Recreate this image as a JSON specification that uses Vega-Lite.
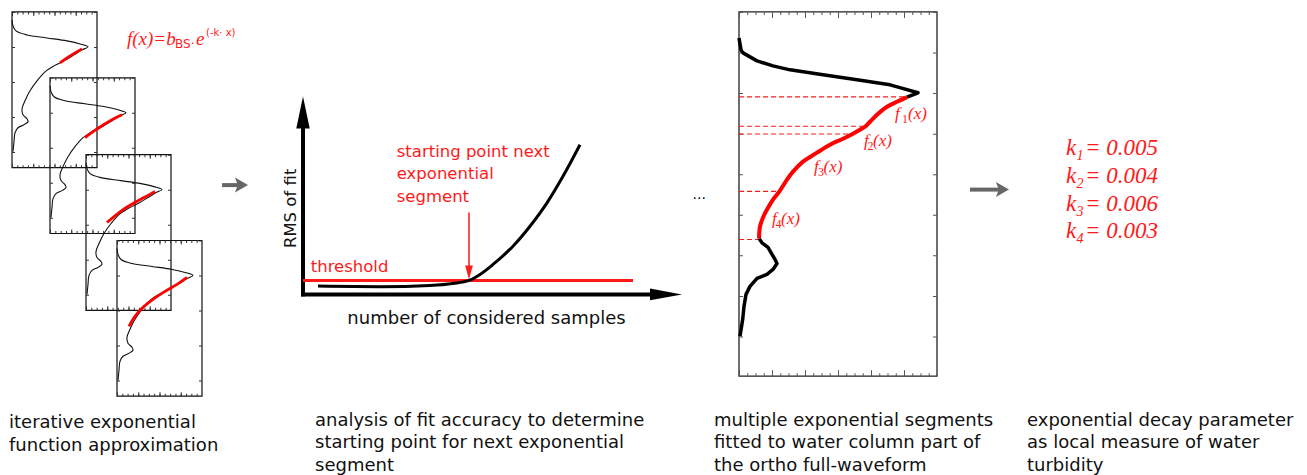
{
  "$schema": "https://vega.github.io/schema/vega-lite/v6.json",
  "width": 1307,
  "height": 475,
  "autosize": {"type": "fit", "contains": "padding"},
  "padding": 0,
  "background": "white",
  "config": {"view": {"stroke": null}},
  "datasets": {
    "pboxes": [
      {"b": "A", "x": 12, "y": 12, "x2": 97, "y2": 168},
      {"b": "B", "x": 50, "y": 78, "x2": 135, "y2": 234},
      {"b": "C", "x": 86, "y": 155, "x2": 171, "y2": 311},
      {"b": "D", "x": 117, "y": 241, "x2": 202, "y2": 397}
    ],
    "box3": [{"x": 739, "y": 12, "x2": 937, "y2": 377}],
    "wave1": [
      {"b":"A","i":0,"x":12,"y":20},{"b":"A","i":1,"x":13,"y":26},{"b":"A","i":2,"x":16,"y":31},{"b":"A","i":3,"x":27,"y":35},{"b":"A","i":4,"x":47,"y":38},{"b":"A","i":5,"x":67,"y":41},{"b":"A","i":6,"x":80,"y":44},{"b":"A","i":7,"x":88,"y":47},{"b":"A","i":8,"x":82,"y":50},{"b":"A","i":9,"x":74,"y":55},{"b":"A","i":10,"x":64,"y":61},{"b":"A","i":11,"x":54,"y":66},{"b":"A","i":12,"x":45,"y":72},{"b":"A","i":13,"x":37,"y":81},{"b":"A","i":14,"x":30,"y":91},{"b":"A","i":15,"x":25,"y":101},{"b":"A","i":16,"x":22,"y":109},{"b":"A","i":17,"x":23,"y":115},{"b":"A","i":18,"x":27,"y":119},{"b":"A","i":19,"x":28,"y":122},{"b":"A","i":20,"x":24,"y":125},{"b":"A","i":21,"x":18,"y":128},{"b":"A","i":22,"x":15,"y":133},{"b":"A","i":23,"x":14,"y":142},{"b":"A","i":24,"x":13,"y":152},
      {"b":"B","i":0,"x":50,"y":86},{"b":"B","i":1,"x":51,"y":92},{"b":"B","i":2,"x":54,"y":97},{"b":"B","i":3,"x":65,"y":101},{"b":"B","i":4,"x":85,"y":104},{"b":"B","i":5,"x":105,"y":107},{"b":"B","i":6,"x":118,"y":110},{"b":"B","i":7,"x":126,"y":113},{"b":"B","i":8,"x":120,"y":116},{"b":"B","i":9,"x":112,"y":121},{"b":"B","i":10,"x":102,"y":127},{"b":"B","i":11,"x":92,"y":132},{"b":"B","i":12,"x":83,"y":138},{"b":"B","i":13,"x":75,"y":147},{"b":"B","i":14,"x":68,"y":157},{"b":"B","i":15,"x":63,"y":167},{"b":"B","i":16,"x":60,"y":175},{"b":"B","i":17,"x":61,"y":181},{"b":"B","i":18,"x":65,"y":185},{"b":"B","i":19,"x":66,"y":188},{"b":"B","i":20,"x":62,"y":191},{"b":"B","i":21,"x":56,"y":194},{"b":"B","i":22,"x":53,"y":199},{"b":"B","i":23,"x":52,"y":208},{"b":"B","i":24,"x":51,"y":218},
      {"b":"C","i":0,"x":86,"y":163},{"b":"C","i":1,"x":87,"y":169},{"b":"C","i":2,"x":90,"y":174},{"b":"C","i":3,"x":101,"y":178},{"b":"C","i":4,"x":121,"y":181},{"b":"C","i":5,"x":141,"y":184},{"b":"C","i":6,"x":154,"y":187},{"b":"C","i":7,"x":162,"y":190},{"b":"C","i":8,"x":156,"y":193},{"b":"C","i":9,"x":148,"y":198},{"b":"C","i":10,"x":138,"y":204},{"b":"C","i":11,"x":128,"y":209},{"b":"C","i":12,"x":119,"y":215},{"b":"C","i":13,"x":111,"y":224},{"b":"C","i":14,"x":104,"y":234},{"b":"C","i":15,"x":99,"y":244},{"b":"C","i":16,"x":96,"y":252},{"b":"C","i":17,"x":97,"y":258},{"b":"C","i":18,"x":101,"y":262},{"b":"C","i":19,"x":102,"y":265},{"b":"C","i":20,"x":98,"y":268},{"b":"C","i":21,"x":92,"y":271},{"b":"C","i":22,"x":89,"y":276},{"b":"C","i":23,"x":88,"y":285},{"b":"C","i":24,"x":87,"y":295},
      {"b":"D","i":0,"x":117,"y":249},{"b":"D","i":1,"x":118,"y":255},{"b":"D","i":2,"x":121,"y":260},{"b":"D","i":3,"x":132,"y":264},{"b":"D","i":4,"x":152,"y":267},{"b":"D","i":5,"x":172,"y":270},{"b":"D","i":6,"x":185,"y":273},{"b":"D","i":7,"x":193,"y":276},{"b":"D","i":8,"x":187,"y":279},{"b":"D","i":9,"x":179,"y":284},{"b":"D","i":10,"x":169,"y":290},{"b":"D","i":11,"x":159,"y":295},{"b":"D","i":12,"x":150,"y":301},{"b":"D","i":13,"x":142,"y":310},{"b":"D","i":14,"x":135,"y":320},{"b":"D","i":15,"x":130,"y":330},{"b":"D","i":16,"x":127,"y":338},{"b":"D","i":17,"x":128,"y":344},{"b":"D","i":18,"x":132,"y":348},{"b":"D","i":19,"x":133,"y":351},{"b":"D","i":20,"x":129,"y":354},{"b":"D","i":21,"x":123,"y":357},{"b":"D","i":22,"x":120,"y":362},{"b":"D","i":23,"x":119,"y":371},{"b":"D","i":24,"x":118,"y":381}
    ],
    "red1": [
      {"b":"A","i":0,"x":82,"y":49},{"b":"A","i":1,"x":75,"y":53},{"b":"A","i":2,"x":67,"y":58},{"b":"A","i":3,"x":60,"y":63},
      {"b":"B","i":0,"x":122,"y":115},{"b":"B","i":1,"x":112,"y":120},{"b":"B","i":2,"x":102,"y":126},{"b":"B","i":3,"x":93,"y":132},{"b":"B","i":4,"x":85,"y":138},
      {"b":"C","i":0,"x":155,"y":192},{"b":"C","i":1,"x":144,"y":198},{"b":"C","i":2,"x":133,"y":204},{"b":"C","i":3,"x":123,"y":210},{"b":"C","i":4,"x":114,"y":217},{"b":"C","i":5,"x":107,"y":223},
      {"b":"D","i":0,"x":187,"y":278},{"b":"D","i":1,"x":177,"y":285},{"b":"D","i":2,"x":165,"y":292},{"b":"D","i":3,"x":153,"y":300},{"b":"D","i":4,"x":143,"y":308},{"b":"D","i":5,"x":135,"y":317},{"b":"D","i":6,"x":129,"y":327}
    ],
    "wave3": [
      {"b":"top","i":0,"x":739,"y":38},{"b":"top","i":1,"x":741,"y":50},{"b":"top","i":2,"x":743,"y":53},{"b":"top","i":3,"x":757,"y":61},{"b":"top","i":4,"x":773,"y":66},{"b":"top","i":5,"x":790,"y":70},{"b":"top","i":6,"x":823,"y":75},{"b":"top","i":7,"x":857,"y":80},{"b":"top","i":8,"x":890,"y":85},{"b":"top","i":9,"x":899,"y":87.5},{"b":"top","i":10,"x":918,"y":93},{"b":"top","i":11,"x":907,"y":97.3},
      {"b":"tail","i":0,"x":759,"y":239},{"b":"tail","i":1,"x":762,"y":243.3},{"b":"tail","i":2,"x":768,"y":248},{"b":"tail","i":3,"x":775,"y":260},{"b":"tail","i":4,"x":777,"y":264},{"b":"tail","i":5,"x":773,"y":270},{"b":"tail","i":6,"x":767,"y":275},{"b":"tail","i":7,"x":757,"y":279},{"b":"tail","i":8,"x":750,"y":287},{"b":"tail","i":9,"x":746,"y":295},{"b":"tail","i":10,"x":744,"y":307},{"b":"tail","i":11,"x":742.7,"y":320},{"b":"tail","i":12,"x":740,"y":337}
    ],
    "red3": [
      {"i":0,"x":907,"y":97.3},{"i":1,"x":897,"y":102},{"i":2,"x":887,"y":107},{"i":3,"x":877,"y":115},{"i":4,"x":870,"y":122},{"i":5,"x":865,"y":127},{"i":6,"x":860,"y":130},{"i":7,"x":853,"y":134},{"i":8,"x":843,"y":139},{"i":9,"x":830,"y":145},{"i":10,"x":817,"y":153},{"i":11,"x":803,"y":162},{"i":12,"x":793,"y":172},{"i":13,"x":787,"y":180},{"i":14,"x":780,"y":191},{"i":15,"x":773,"y":200},{"i":16,"x":767,"y":210},{"i":17,"x":763,"y":218},{"i":18,"x":760,"y":227},{"i":19,"x":759,"y":239}
    ],
    "captions": [
      {"x": 9, "y": 429.3, "t": "iterative exponential"},
      {"x": 9, "y": 451.7, "t": "function approximation"},
      {"x": 315, "y": 426.7, "t": "analysis of fit accuracy to determine"},
      {"x": 315, "y": 449, "t": "starting point for next exponential"},
      {"x": 315, "y": 471.5, "t": "segment"},
      {"x": 714, "y": 426.7, "t": "multiple exponential segments"},
      {"x": 714, "y": 449, "t": "fitted to water column part of"},
      {"x": 714, "y": 471.5, "t": "the ortho full-waveform"},
      {"x": 1027, "y": 426.7, "t": "exponential decay parameter"},
      {"x": 1027, "y": 449, "t": "as local measure of water"},
      {"x": 1027, "y": 471.5, "t": "turbidity"}
    ]
  },
  "encoding": {
    "x": {"field": "x", "type": "quantitative", "scale": {"domain": [0, 1307], "nice": false, "zero": false}, "axis": null},
    "y": {"field": "y", "type": "quantitative", "scale": {"domain": [0, 475], "reverse": true, "nice": false, "zero": false}, "axis": null}
  },
  "layer": [
    {"data": {"name": "pboxes"}, "mark": {"type": "rect", "fill": "white", "fillOpacity": 0, "stroke": "#111", "strokeWidth": 1.2}, "encoding": {"x2": {"field": "x2"}, "y2": {"field": "y2"}}},
    {"data": {"name": "pboxes"}, "mark": {"type": "rule", "color": "#333", "strokeWidth": 2.5, "strokeDash": [1, 4.31], "yOffset": 1.25}, "encoding": {"x2": {"field": "x2"}}},
    {"data": {"name": "pboxes"}, "mark": {"type": "rule", "color": "#333", "strokeWidth": 4, "strokeDash": [1, 20.25], "yOffset": 2}, "encoding": {"x2": {"field": "x2"}}},
    {"data": {"name": "pboxes"}, "mark": {"type": "rule", "color": "#333", "strokeWidth": 2.5, "strokeDash": [1, 4.31], "yOffset": -1.25}, "encoding": {"y": {"field": "y2", "type": "quantitative", "scale": {"domain": [0, 475], "reverse": true, "nice": false, "zero": false}, "axis": null}, "x2": {"field": "x2"}}},
    {"data": {"name": "pboxes"}, "mark": {"type": "rule", "color": "#333", "strokeWidth": 4, "strokeDash": [1, 20.25], "yOffset": -2}, "encoding": {"y": {"field": "y2", "type": "quantitative", "scale": {"domain": [0, 475], "reverse": true, "nice": false, "zero": false}, "axis": null}, "x2": {"field": "x2"}}},
    {"data": {"name": "pboxes"}, "mark": {"type": "rule", "color": "#333", "strokeWidth": 3, "strokeDash": [1, 34], "xOffset": 1.5}, "encoding": {"y2": {"field": "y2"}}},
    {"data": {"name": "pboxes"}, "mark": {"type": "rule", "color": "#333", "strokeWidth": 3, "strokeDash": [1, 34], "xOffset": -1.5}, "encoding": {"x": {"field": "x2", "type": "quantitative", "scale": {"domain": [0, 1307], "nice": false, "zero": false}, "axis": null}, "y2": {"field": "y2"}}},
    {"data": {"name": "wave1"}, "mark": {"type": "line", "color": "#111", "strokeWidth": 1.1, "interpolate": "catmull-rom"}, "encoding": {"detail": {"field": "b"}, "order": {"field": "i", "type": "quantitative"}}},
    {"data": {"name": "red1"}, "mark": {"type": "line", "color": "#ff0000", "strokeWidth": 2.8, "interpolate": "catmull-rom"}, "encoding": {"detail": {"field": "b"}, "order": {"field": "i", "type": "quantitative"}}},

    {"data": {"values": [{"x": 222, "x2": 239, "y": 185.5}, {"x": 970, "x2": 1001, "y": 190}]}, "mark": {"type": "rule", "color": "#666", "strokeWidth": 4}, "encoding": {"x2": {"field": "x2"}}},
    {"data": {"values": [{"x": 240.5, "y": 185.5}, {"x": 1001.5, "y": 190}]}, "mark": {"type": "point", "shape": "M1,0L-0.75,-1L-0.35,0L-0.75,1Z", "size": 225, "filled": true, "color": "#666", "opacity": 1, "strokeWidth": 0}, "encoding": {}},

    {"data": {"values": [{"x": 303, "y": 297, "y2": 118}]}, "mark": {"type": "rule", "color": "#000", "strokeWidth": 4}, "encoding": {"y2": {"field": "y2"}}},
    {"data": {"values": [{"x": 301, "x2": 655, "y": 295}]}, "mark": {"type": "rule", "color": "#000", "strokeWidth": 4}, "encoding": {"x2": {"field": "x2"}}},
    {"data": {"values": [{"x": 303, "y": 112.7}]}, "mark": {"type": "point", "shape": "M0,-1L0.42,1L-0.42,1Z", "size": 1024, "filled": true, "color": "#000", "opacity": 1, "strokeWidth": 0}, "encoding": {}},
    {"data": {"values": [{"x": 666, "y": 295}]}, "mark": {"type": "point", "shape": "M1,0L-1,-0.37L-1,0.37Z", "size": 1024, "filled": true, "color": "#000", "opacity": 1, "strokeWidth": 0}, "encoding": {}},
    {"data": {"values": [{"x": 303, "x2": 633, "y": 281}]}, "mark": {"type": "rule", "color": "#ff1a1a", "strokeWidth": 3}, "encoding": {"x2": {"field": "x2"}}},
    {"data": {"values": [
      {"i":0,"x":318,"y":286.7},{"i":1,"x":380,"y":287.3},{"i":2,"x":430,"y":286},{"i":3,"x":453,"y":284},{"i":4,"x":469,"y":281},{"i":5,"x":480,"y":275},{"i":6,"x":493,"y":265},{"i":7,"x":513,"y":246.7},{"i":8,"x":530,"y":226.7},{"i":9,"x":547,"y":203.3},{"i":10,"x":563,"y":176.7},{"i":11,"x":580,"y":145}
    ]}, "mark": {"type": "line", "color": "#000", "strokeWidth": 3, "interpolate": "monotone"}, "encoding": {"order": {"field": "i", "type": "quantitative"}}},
    {"data": {"values": [{"x": 469, "y": 213, "y2": 267}]}, "mark": {"type": "rule", "color": "#ff1a1a", "strokeWidth": 1.5}, "encoding": {"y2": {"field": "y2"}}},
    {"data": {"values": [{"x": 469, "y": 273}]}, "mark": {"type": "point", "shape": "M0,1L-0.55,-1L0.55,-1Z", "size": 196, "filled": true, "color": "#ff1a1a", "opacity": 1, "strokeWidth": 0}, "encoding": {}},

    {"data": {"name": "box3"}, "mark": {"type": "rect", "fill": "white", "fillOpacity": 0, "stroke": "#222", "strokeWidth": 1.3}, "encoding": {"x2": {"field": "x2"}, "y2": {"field": "y2"}}},
    {"data": {"name": "box3"}, "mark": {"type": "rule", "color": "#555", "strokeWidth": 3, "strokeDash": [1, 7.25], "yOffset": 1.5}, "encoding": {"x2": {"field": "x2"}}},
    {"data": {"name": "box3"}, "mark": {"type": "rule", "color": "#555", "strokeWidth": 6, "strokeDash": [1, 32], "yOffset": 3}, "encoding": {"x2": {"field": "x2"}}},
    {"data": {"name": "box3"}, "mark": {"type": "rule", "color": "#555", "strokeWidth": 3, "strokeDash": [1, 7.25], "yOffset": -1.5}, "encoding": {"y": {"field": "y2", "type": "quantitative", "scale": {"domain": [0, 475], "reverse": true, "nice": false, "zero": false}, "axis": null}, "x2": {"field": "x2"}}},
    {"data": {"name": "box3"}, "mark": {"type": "rule", "color": "#555", "strokeWidth": 6, "strokeDash": [1, 32], "yOffset": -3}, "encoding": {"y": {"field": "y2", "type": "quantitative", "scale": {"domain": [0, 475], "reverse": true, "nice": false, "zero": false}, "axis": null}, "x2": {"field": "x2"}}},
    {"data": {"name": "box3"}, "mark": {"type": "rule", "color": "#555", "strokeWidth": 4, "strokeDash": [1, 39.56], "xOffset": 2}, "encoding": {"y2": {"field": "y2"}}},
    {"data": {"name": "box3"}, "mark": {"type": "rule", "color": "#555", "strokeWidth": 4, "strokeDash": [1, 39.56], "xOffset": -2}, "encoding": {"x": {"field": "x2", "type": "quantitative", "scale": {"domain": [0, 1307], "nice": false, "zero": false}, "axis": null}, "y2": {"field": "y2"}}},
    {"data": {"values": [
      {"x": 739, "x2": 907, "y": 97}, {"x": 739, "x2": 865, "y": 126.5}, {"x": 739, "x2": 853, "y": 134.3}, {"x": 739, "x2": 780, "y": 191.7}, {"x": 739, "x2": 759, "y": 240}
    ]}, "mark": {"type": "rule", "color": "#ff1a1a", "strokeWidth": 1.2, "strokeDash": [5, 3]}, "encoding": {"x2": {"field": "x2"}}},
    {"data": {"name": "wave3"}, "mark": {"type": "line", "color": "#000", "strokeWidth": 3.5, "strokeJoin": "round", "interpolate": "linear"}, "encoding": {"detail": {"field": "b"}, "order": {"field": "i", "type": "quantitative"}}},
    {"data": {"name": "red3"}, "mark": {"type": "line", "color": "#ff0000", "strokeWidth": 4, "strokeJoin": "round", "interpolate": "catmull-rom"}, "encoding": {"order": {"field": "i", "type": "quantitative"}}},

    {"data": {"name": "captions"}, "mark": {"type": "text", "font": "DejaVu Sans", "fontSize": 18, "color": "#111", "align": "left", "baseline": "alphabetic"}, "encoding": {"text": {"field": "t"}}},
    {"data": {"values": [
      {"x": 396.7, "y": 157, "t": "starting point next"},
      {"x": 396.7, "y": 179.5, "t": "exponential"},
      {"x": 396.7, "y": 202, "t": "segment"},
      {"x": 310.7, "y": 272.7, "t": "threshold"}
    ]}, "mark": {"type": "text", "font": "DejaVu Sans", "fontSize": 16.5, "color": "#ff1a1a", "align": "left", "baseline": "alphabetic"}, "encoding": {"text": {"field": "t"}}},
    {"data": {"values": [{"x": 486.5, "y": 325, "t": "number of considered samples"}]}, "mark": {"type": "text", "font": "DejaVu Sans", "fontSize": 18, "color": "#111", "align": "center", "baseline": "alphabetic"}, "encoding": {"text": {"field": "t"}}},
    {"data": {"values": [{"x": 295.5, "y": 208.8, "t": "RMS of fit"}]}, "mark": {"type": "text", "font": "DejaVu Sans", "fontSize": 16.5, "color": "#111", "align": "center", "baseline": "alphabetic", "angle": 270}, "encoding": {"text": {"field": "t"}}},
    {"data": {"values": [{"x": 692.5, "y": 199, "t": "..."}]}, "mark": {"type": "text", "font": "DejaVu Sans", "fontSize": 14, "color": "#000", "align": "left", "baseline": "alphabetic"}, "encoding": {"text": {"field": "t"}}},

    {"data": {"values": [
      {"x": 895, "y": 119, "t": "f"}, {"x": 864, "y": 146, "t": "f"}, {"x": 814, "y": 172, "t": "f"}, {"x": 772, "y": 224, "t": "f"},
      {"x": 908, "y": 119, "t": "(x)"}, {"x": 873, "y": 146, "t": "(x)"}, {"x": 823.5, "y": 172, "t": "(x)"}, {"x": 781, "y": 224, "t": "(x)"}
    ]}, "mark": {"type": "text", "font": "Liberation Serif", "fontStyle": "italic", "fontSize": 17, "color": "#ff1a1a", "align": "left", "baseline": "alphabetic"}, "encoding": {"text": {"field": "t"}}},
    {"data": {"values": [
      {"x": 902, "y": 123, "t": "1"}, {"x": 867.5, "y": 150, "t": "2"}, {"x": 818, "y": 176, "t": "3"}, {"x": 775.5, "y": 228, "t": "4"}
    ]}, "mark": {"type": "text", "font": "Liberation Serif", "fontSize": 12, "color": "#ff1a1a", "align": "left", "baseline": "alphabetic"}, "encoding": {"text": {"field": "t"}}},

    {"data": {"values": [
      {"x": 1066, "y": 155, "t": "k"}, {"x": 1066, "y": 183, "t": "k"}, {"x": 1066, "y": 211.5, "t": "k"}, {"x": 1066, "y": 239, "t": "k"},
      {"x": 1085, "y": 155, "t": "= 0.005"}, {"x": 1085, "y": 183, "t": "= 0.004"}, {"x": 1085, "y": 211.5, "t": "= 0.006"}, {"x": 1085, "y": 239, "t": "= 0.003"}
    ]}, "mark": {"type": "text", "font": "Liberation Serif", "fontStyle": "italic", "fontSize": 23, "color": "#ff1a1a", "align": "left", "baseline": "alphabetic"}, "encoding": {"text": {"field": "t"}}},
    {"data": {"values": [
      {"x": 1076.5, "y": 160, "t": "1"}, {"x": 1076.5, "y": 188, "t": "2"}, {"x": 1076.5, "y": 216.5, "t": "3"}, {"x": 1076.5, "y": 244, "t": "4"}
    ]}, "mark": {"type": "text", "font": "Liberation Serif", "fontStyle": "italic", "fontSize": 14, "color": "#ff1a1a", "align": "left", "baseline": "alphabetic"}, "encoding": {"text": {"field": "t"}}},

    {"data": {"values": [{"x": 127, "y": 45, "t": "f(x)=b"}, {"x": 196, "y": 45, "t": "e"}]}, "mark": {"type": "text", "font": "Liberation Serif", "fontStyle": "italic", "fontSize": 19, "color": "#ff1a1a", "align": "left", "baseline": "alphabetic"}, "encoding": {"text": {"field": "t"}}},
    {"data": {"values": [{"x": 175, "y": 48, "t": "BS·"}]}, "mark": {"type": "text", "font": "DejaVu Sans", "fontSize": 12, "color": "#ff1a1a", "align": "left", "baseline": "alphabetic"}, "encoding": {"text": {"field": "t"}}},
    {"data": {"values": [{"x": 206, "y": 36, "t": "(-k· x)"}]}, "mark": {"type": "text", "font": "DejaVu Sans", "fontSize": 10, "color": "#ff1a1a", "align": "left", "baseline": "alphabetic"}, "encoding": {"text": {"field": "t"}}}
  ]
}
